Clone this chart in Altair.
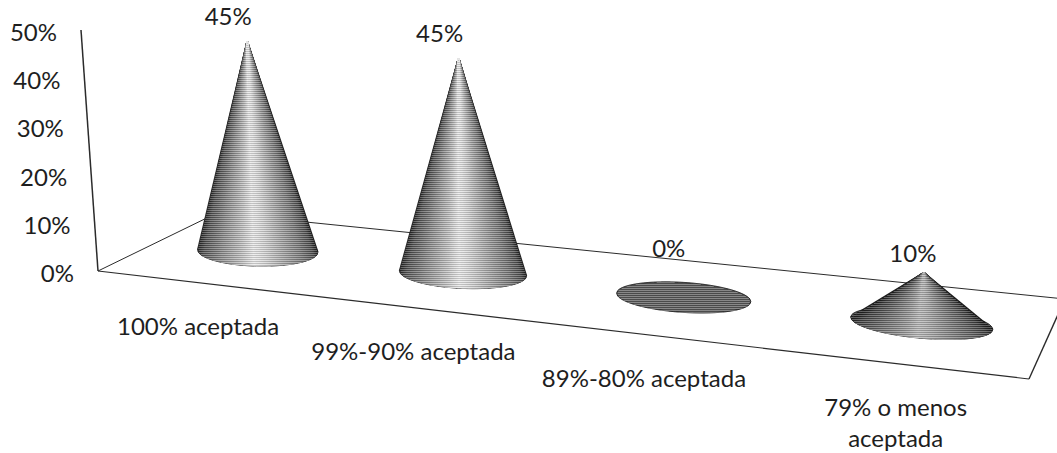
import altair as alt
import pandas as pd

# Chart values
CATEGORIES = ["100% aceptada", "99%-90% aceptada", "89%-80% aceptada", "79% o menos\naceptada"]
VALUES = [45, 45, 0, 10]
TICKS = [0, 10, 20, 30, 40, 50]

W, H = 1057, 453

# Corners of the tilted floor, in canvas units
FRONT_L, FRONT_R = (98, 271), (1029, 379)
BACK_L, BACK_R = (217, 213), (1065, 299)
AXIS_LEAN, AXIS_RISE = -0.34, 4.82
PERSPECTIVE = 1.16
BASE_DEPTH = 0.525


def lerp(p, q, t):
    return (p[0] + (q[0] - p[0]) * t, p[1] + (q[1] - p[1]) * t)


def floor_pt(t, depth):
    return lerp(lerp(FRONT_L, FRONT_R, t), lerp(BACK_L, BACK_R, t), depth)


def along(i):
    u = (i + 0.5) / len(CATEGORIES)
    return u / (u + PERSPECTIVE * (1 - u))


def apex_of(x, y, value):
    rise = 4.66 + 0.0006 * (x - 257)
    lean = (x - 610) / 1500
    return x + lean * value, y - rise * value


def axis_pt(v):
    return FRONT_L[0] + AXIS_LEAN * v, FRONT_L[1] - AXIS_RISE * v


SHADE_STOPS = [(-1.0, 40), (-0.9, 85), (-0.6, 140), (-0.25, 195), (-0.05, 235),
               (0.15, 210), (0.45, 165), (0.75, 120), (0.93, 80), (1.0, 35)]


def shade(c, value):
    level = SHADE_STOPS[-1][1]
    for (c0, s0), (c1, s1) in zip(SHADE_STOPS, SHADE_STOPS[1:]):
        if c0 <= c <= c1:
            level = s0 + (s1 - s0) * (c - c0) / (c1 - c0)
            break
    level *= 0.72 + 0.28 * min(1, value / 45)
    g = int(level)
    return f"#{g:02x}{g:02x}{g:02x}"


# Floor outline and the value axis line
edges = pd.DataFrame([
    dict(x=FRONT_L[0], y=FRONT_L[1], x2=FRONT_R[0], y2=FRONT_R[1], w=1.2),
    dict(x=FRONT_L[0], y=FRONT_L[1], x2=BACK_L[0], y2=BACK_L[1], w=1.0),
    dict(x=BACK_L[0], y=BACK_L[1], x2=BACK_R[0], y2=BACK_R[1], w=1.0),
    dict(x=FRONT_R[0], y=FRONT_R[1], x2=BACK_R[0], y2=BACK_R[1], w=1.4),
    dict(x=FRONT_L[0], y=FRONT_L[1], x2=axis_pt(TICKS[-1])[0], y2=axis_pt(TICKS[-1])[1], w=1.5),
])

LABEL_NUDGE = [(-19, -23), (-19, -23), (-15, -47), (-11, -18)]
CAT_NUDGE = [-2, -2, -3, -1]

ellipse_rows, fan_rows, text_rows, scan_rows = [], [], [], []
for i, (cat, val) in enumerate(zip(CATEGORIES, VALUES)):
    t = along(i)
    cx, cy = floor_pt(t, BASE_DEPTH)
    a = 60 + (cx - 257) * 11 / 664
    b = 15
    tilt = 0.02 + 0.0001 * (cx - 257)
    ax, ay = apex_of(cx, cy, val)

    n = int(2 * a)
    this_ellipse = []
    for k in range(n + 1):
        c = -1 + 2 * k / n
        dy = b * (1 - c * c) ** 0.5
        px = cx + a * c
        py = cy + tilt * a * c
        this_ellipse.append(dict(cone=i, x=px, y=py - dy, y2=py + dy))
    ellipse_rows += this_ellipse

    if val > 0:
        m = 2 * n
        pts = sorted(range(m + 1), key=lambda k: -abs(-1 + 2 * k / m))
        for k in pts:
            c = -1 + 2 * k / m
            dy = b * (1 - c * c) ** 0.5
            fan_rows.append(dict(x=ax, y=ay, x2=cx + a * c, y2=cy + tilt * a * c + dy,
                                 shade=shade(c, val)))

    # Fine horizontal scan texture across each cone's silhouette
    lx, ly = cx - a, cy - tilt * a
    rx, ry = cx + a, cy + tilt * a
    top = int(min(ay, min(e["y"] for e in this_ellipse))) + 1
    bottom = int(max(e["y2"] for e in this_ellipse))
    for row, yy in enumerate(range(top, bottom + 1)):
        spans = [e["x"] for e in this_ellipse if e["y"] <= yy <= e["y2"]]
        if val > 0:
            if ay <= yy <= ly:
                spans.append(ax + (lx - ax) * (yy - ay) / (ly - ay))
            if ay <= yy <= ry:
                spans.append(ax + (rx - ax) * (yy - ay) / (ry - ay))
        if len(spans) >= 2:
            light = row % 2 == 0
            scan_rows.append(dict(x=min(spans), x2=max(spans), y=yy + 0.5,
                                  tone="#ffffff" if light else "#000000",
                                  alpha=0.28 if light else 0.16))

    dx, dy = LABEL_NUDGE[i]
    text_rows.append(dict(x=ax + dx, y=ay + dy, label=f"{val}%"))
    fx, fy = floor_pt(t, 0)
    for j, line in enumerate(cat.split("\n")):
        text_rows.append(dict(x=fx + CAT_NUDGE[i], y=fy + 45.5 + j * 31, label=line))

tick_rows = []
for v in TICKS:
    px, py = axis_pt(v)
    tick_rows.append(dict(x=px - 24, y=py + 4, label=f"{v}%"))

X = alt.X("x:Q", scale=alt.Scale(domain=[0, W], nice=False, zero=False), axis=None)
Y = alt.Y("y:Q", scale=alt.Scale(domain=[H, 0], nice=False, zero=False), axis=None)

floor = alt.Chart(edges).mark_rule(color="#2b2b2b").encode(
    x=X, y=Y, x2="x2:Q", y2="y2:Q", strokeWidth=alt.StrokeWidth("w:Q", scale=None))
bases = alt.Chart(pd.DataFrame(ellipse_rows)).mark_area(
    color="#5a5a5a", stroke="#1c1c1c", strokeWidth=1).encode(
    x=X, y=Y, y2="y2:Q", detail="cone:N")
fans = alt.Chart(pd.DataFrame(fan_rows)).mark_rule(strokeWidth=1.6).encode(
    x=X, y=Y, x2="x2:Q", y2="y2:Q", color=alt.Color("shade:N", scale=None))
scans = alt.Chart(pd.DataFrame(scan_rows)).mark_rule(strokeWidth=1).encode(
    x=X, y=Y, x2="x2:Q",
    color=alt.Color("tone:N", scale=None),
    opacity=alt.Opacity("alpha:Q", scale=None))
FONT = dict(font="Lato", fontSize=24, color="#1e1e1e")
texts = alt.Chart(pd.DataFrame(text_rows)).mark_text(baseline="middle", align="center", **FONT).encode(
    x=X, y=Y, text="label:N")
ticks = alt.Chart(pd.DataFrame(tick_rows)).mark_text(baseline="middle", align="right", **FONT).encode(
    x=X, y=Y, text="label:N")

chart = alt.layer(floor, bases, fans, scans, texts, ticks).properties(
    width=W, height=H, padding=0, autosize=alt.AutoSizeParams(type="none"),
    background="white").configure_view(stroke=None)

chart.save("out.html", embed_options={"renderer": "svg", "actions": False})
